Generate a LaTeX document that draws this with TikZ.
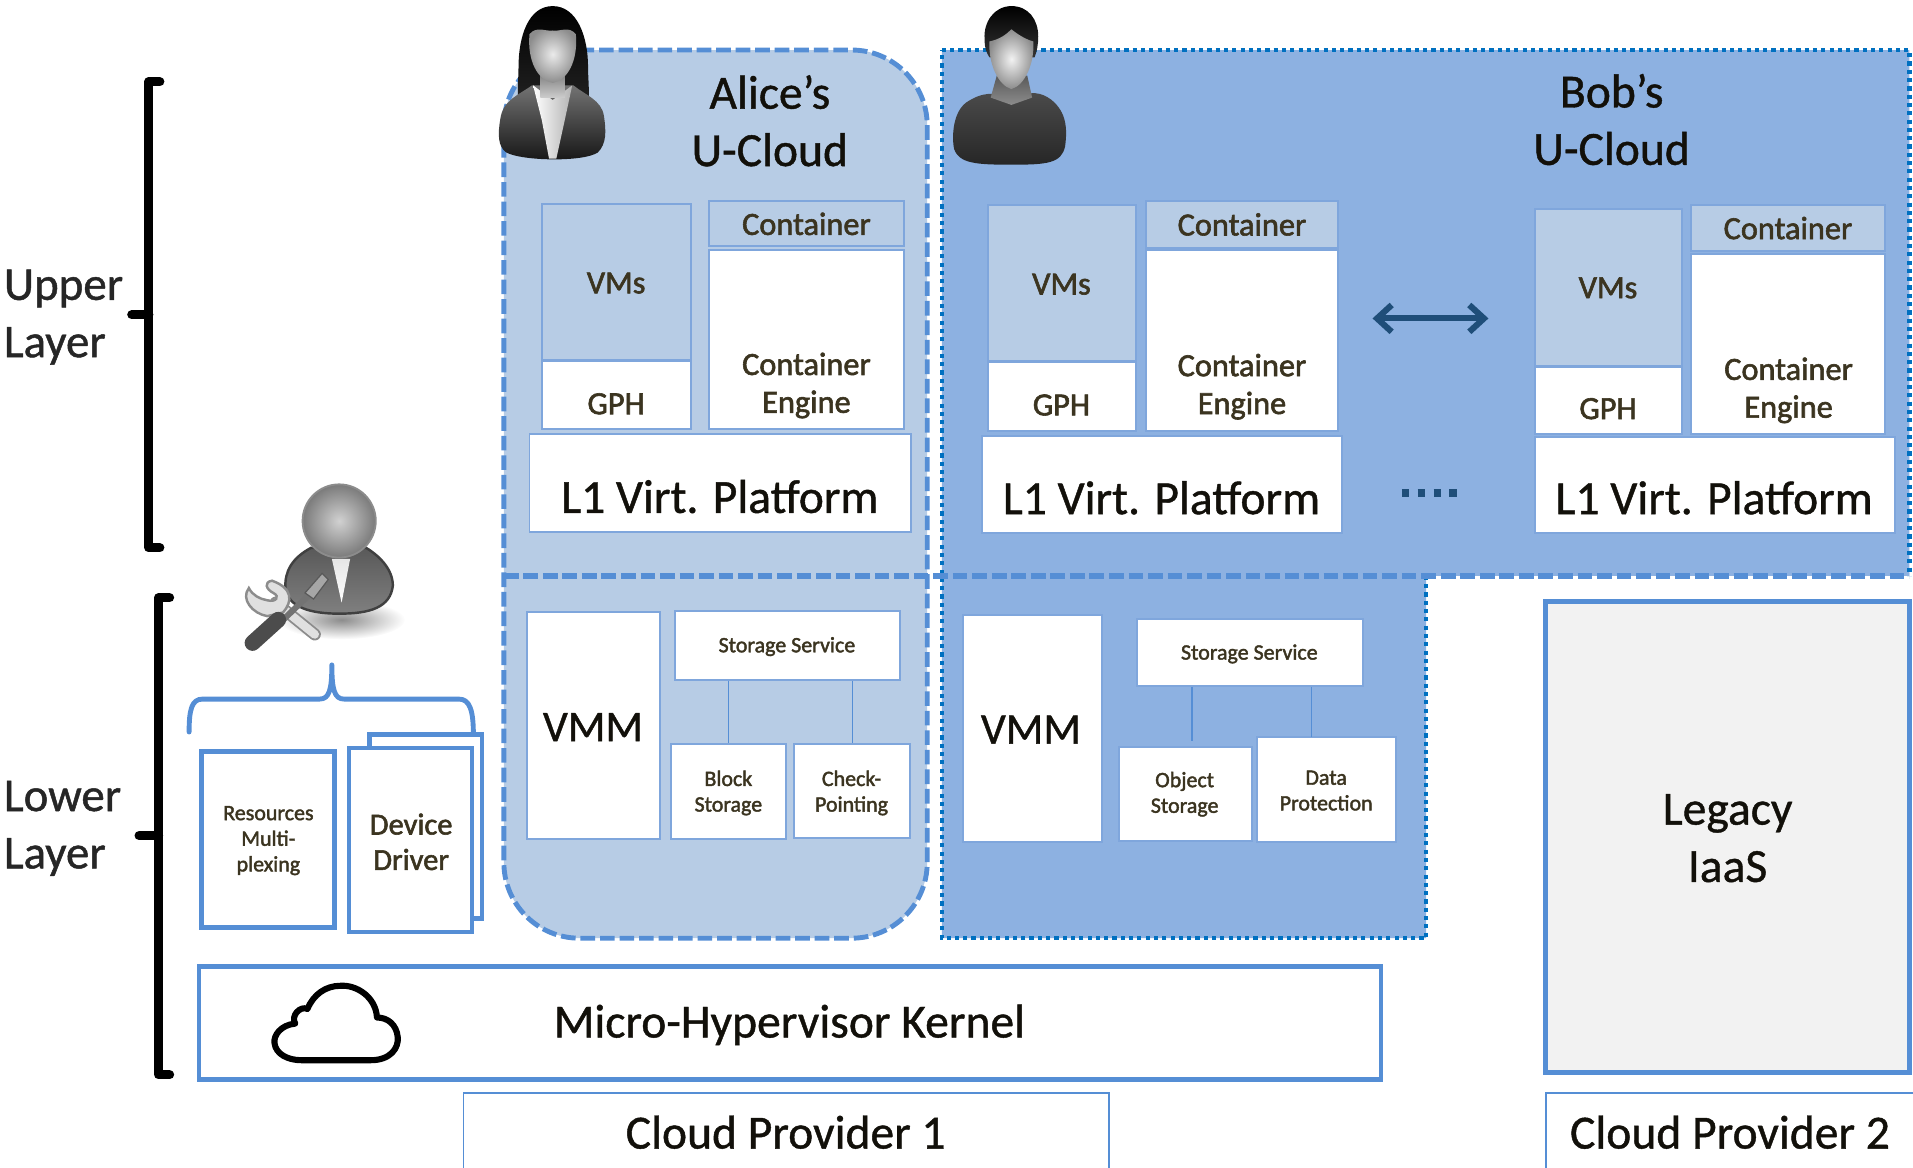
\documentclass[tikz,border=0pt]{standalone}
\usepackage{fontspec}
\setmainfont[FakeBold=1]{Carlito}
\newfontfamily\fbig[FakeBold=0.9]{Carlito}
\newfontfamily\fbold[FakeBold=1.8]{Carlito}
\usetikzlibrary{arrows.meta,calc}
\definecolor{alicefill}{HTML}{B7CCE5}
\definecolor{bobfill}{HTML}{8DB1E1}
\definecolor{dashblue}{HTML}{558ED5}
\definecolor{dotblue}{HTML}{0070C0}
\definecolor{txt}{HTML}{3B3420}
\definecolor{edge}{HTML}{7FA6DC}
\definecolor{arrowblue}{HTML}{1F4E79}
\newcommand\bx[6]{% name x1 y1 x2 y2 style
  \pgfmathsetmacro\bxw{#4-#2}\pgfmathsetmacro\bxh{#5-#3}
  \pgfmathsetmacro\bxx{(#2+#4)/2}\pgfmathsetmacro\bxy{(#3+#5)/2}
  \node[minimum width=\bxw pt,minimum height=\bxh pt,inner sep=0pt,#6] (#1) at (\bxx,\bxy) {};}
\tikzset{
  white box/.style={draw=edge,line width=1.6pt,fill=white},
  light box/.style={draw=edge,line width=1.6pt,fill=alicefill},
  blue frame/.style={draw=dashblue,line width=3.8pt,fill=white},
  thin frame/.style={draw=dashblue,line width=1.2pt},
  lab/.style={text=txt,align=center,inner sep=0pt},
  big/.style={text=black!70!txt,align=center,inner sep=0pt},
  wire/.style={draw=dashblue,line width=1.1pt},
  alice edge/.style={draw=dashblue,line width=4pt,dash pattern=on 12pt off 4pt},
  bob edge/.style={draw=dotblue,line width=3.6pt,dash pattern=on 3.4pt off 3.4pt},
  bracket/.style={draw=black,line width=7.5pt,line cap=round,line join=round},
  fs/.style={font=\fbold\fontsize{26.5}{31}\selectfont},
  fm/.style={font=\fbold\fontsize{18}{21}\selectfont},
  fb/.style={font=\fbig\fontsize{39}{47}\selectfont},
}
\begin{document}
\begin{tikzpicture}[x=1pt,y=-1pt]
\useasboundingbox (0,0) rectangle (1568,957);
% regions
\fill[bobfill] (772,41) -- (1565,41) -- (1565,472) -- (1169,472) -- (1169,769) -- (772,769) -- cycle;
\draw[bob edge] (772,41) -- (1565,41) -- (1565,472) (1169,472) -- (1169,769) -- (772,769) -- (772,41);
\path[fill=alicefill,alice edge,rounded corners=62pt] (413,41) -- (760,41) -- (760,769) -- (413,769) -- cycle;
\draw[alice edge,line width=4.6pt] (413,472) -- (1565,472);
% Alice upper
\bx{av}{444}{167}{566}{295}{light box}
\bx{ag}{444}{296}{566}{352}{white box}
\bx{ac}{581}{165}{741}{202}{light box}
\bx{ae}{581}{205}{741}{352}{white box}
\bx{al}{434}{356}{747}{436}{white box}
\node[big,fb] (atitle) at (631,99) {Alice’s\\U-Cloud};
\node[lab,fs] at (505,232) {VMs};
\node[lab,fs] at (505,331) {GPH};
\node[lab,fs] at (ac.center) {Container};
\node[lab,fs] at (661,316) {Container\\Engine};
\node[big,fb] at (590,407) {L1 Virt. Platform};
% Bob upper 1
\bx{bv}{810}{168}{931}{296}{light box}
\bx{bg}{810}{297}{931}{353}{white box}
\bx{bc}{939}{165}{1097}{203}{light box}
\bx{be}{939}{205}{1097}{353}{white box}
\bx{bl}{805}{357}{1100}{437}{white box}
\node[big,fb] (btitle) at (1321,98) {Bob’s\\U-Cloud};
\node[lab,fs] at (870,233) {VMs};
\node[lab,fs] at (870,332) {GPH};
\node[lab,fs] at (bc.center) {Container};
\node[lab,fs] at (1018,317) {Container\\Engine};
\node[big,fb] at (952,408) {L1 Virt. Platform};
% Bob upper 2
\bx{cv}{1258}{171}{1379}{300}{light box}
\bx{cg}{1258}{301}{1379}{356}{white box}
\bx{cc}{1386}{168}{1545}{206}{light box}
\bx{ce}{1386}{208}{1545}{356}{white box}
\bx{cl}{1258}{358}{1553}{437}{white box}
\node[lab,fs] at (1318,236) {VMs};
\node[lab,fs] at (1318,335) {GPH};
\node[lab,fs] at (cc.center) {Container};
\node[lab,fs] at (1466,320) {Container\\Engine};
\node[big,fb] at (1405,408) {L1 Virt. Platform};
% arrow and dots
\coordinate (ar1) at (1125,261);
\coordinate (ar2) at (1220,261);
\draw[arrowblue,line width=5pt,{Straight Barb[length=12pt,width=22pt]}-{Straight Barb[length=12pt,width=22pt]}] (ar1) -- (ar2);
\coordinate (dt1) at (1149,404);
\coordinate (dt2) at (1196,404);
\draw[arrowblue,line width=6pt,dash pattern=on 6pt off 7pt] (dt1) -- (dt2);
% Alice lower
\bx{am}{432}{502}{541}{688}{white box}
\bx{as}{553}{501}{738}{557}{white box}
\bx{ab}{550}{610}{644}{688}{white box}
\bx{ak}{651}{610}{746}{687}{white box}
\node[big,fb,font=\fbig\fontsize{36}{44}\selectfont] at (486,596) {VMM};
\node[lab,fm] at (645,530) {Storage Service};
\node[lab,fm] at (597,650) {Block\\Storage};
\node[lab,fm] at (698,650) {Check-\\Pointing};
\draw[wire] (as.south -| ab.north) -- (ab.north);
\draw[wire] (as.south -| ak.north) -- (ak.north);
% Bob lower
\bx{bm}{789}{504}{903}{690}{white box}
\bx{bs}{932}{507}{1117}{562}{white box}
\bx{bo}{917}{612}{1026}{689}{white box}
\bx{bd}{1030}{604}{1144}{690}{white box}
\node[big,fb,font=\fbig\fontsize{36}{44}\selectfont] at (845,598) {VMM};
\node[lab,fm] at (1024,536) {Storage Service};
\node[lab,fm] at (971,651) {Object\\Storage};
\node[lab,fm] at (1087,648) {Data\\Protection};
\coordinate (w1) at (977,607);
\coordinate (w2) at (1075,604);
\draw[wire] (bs.south -| w1) -- (w1);
\draw[wire] (bs.south -| w2) -- (w2);
% admin group
\draw[draw=dashblue,line width=4pt,line cap=round,line join=round] (155,600) .. controls (155,582) and (157,573) .. (166,573) -- (262,573) .. controls (270,573) and (272,565) .. (272,545) .. controls (272,565) and (274,573) .. (282,573) -- (376,573) .. controls (385,573) and (388,582) .. (388,602);
\bx{back}{303}{602}{395}{753}{blue frame}
\bx{res}{165}{616}{274}{760}{blue frame}
\bx{dev}{286}{613}{387}{764}{blue frame}
\node[lab,fm] at (220,689) {Resources\\Multi-\\plexing};
\node[lab,font=\fbold\fontsize{25}{29}\selectfont] at (337,690) {Device\\Driver};
% kernel
\bx{kern}{163}{792}{1132}{885}{blue frame}
\node[big,fb] at (647,840) {Micro-Hypervisor Kernel};
\draw[black,line width=5pt,line join=round,fill=white] (247,869) -- (304,869) .. controls (320,869) and (327,859) .. (326,850) .. controls (325,840) and (318,834) .. (309,834) .. controls (308,817) and (292,807) .. (279,808) .. controls (267,808) and (257,815) .. (252,827) .. controls (246,824) and (238,833) .. (242,839) .. controls (230,840) and (224,849) .. (225,855) .. controls (226,864) and (236,869) .. (247,869) -- cycle;
% legacy
\bx{leg}{1267}{493}{1565}{879}{blue frame,fill=black!5}
\node[big,fb] at (1416,687) {Legacy\\IaaS};
% providers
\node[big,fb] (p1) at (644,928) {Cloud Provider 1};
\node[big,fb] (p2) at (1418,928) {Cloud Provider 2};
\draw[thin frame] (380,957) -- (380,896) -- (909,896) -- (909,957);
\draw[thin frame] (1267,957) -- (1267,896) -- (1568,896);
% layer labels
\node[anchor=west,align=left,inner sep=0pt,font=\fontsize{38.5}{47}\selectfont,text=black!85] (up) at (3,260) {Upper\\Layer};
\node[anchor=west,align=left,inner sep=0pt,font=\fontsize{38.5}{47}\selectfont,text=black!85] (lo) at (3,679) {Lower\\Layer};
\draw[bracket] (131,67) -- (122,67) -- (122,449) -- (131,449) (122,258) -- (108,258);
\draw[bracket] (139,490) -- (130,490) -- (130,881) -- (139,881) (130,685) -- (114,685);
% Alice icon
\path[top color=black,bottom color=black!85] (453,5) .. controls (433,5) and (425,30) .. (425,55) .. controls (425,70) and (422,85) .. (430,95) -- (478,95) .. controls (485,85) and (482,70) .. (482,55) .. controls (482,30) and (473,5) .. (453,5) -- cycle;
\path[top color=black!55,bottom color=black!92] (436,70) .. controls (425,78) and (412,82) .. (410,98) .. controls (408,110) and (408,120) .. (415,125) .. controls (428,132) and (478,133) .. (490,125) .. controls (497,118) and (497,108) .. (495,95) .. controls (493,82) and (480,78) .. (470,70) -- cycle;
\path[left color=white,right color=black!30] (437,70) -- (444,98) -- (450,130) -- (456,130) -- (463,98) -- (469,70) -- (453,82) -- cycle;
\path[top color=black!50,bottom color=black!20] (443,60) rectangle (463,80);
\path[inner color=black!8,outer color=black!45] (434,28) .. controls (440,21) and (447,26) .. (453,25) .. controls (460,26) and (466,21) .. (472,28) .. controls (474,50) and (465,66) .. (453,68) .. controls (441,66) and (432,50) .. (434,28) -- cycle;
% Bob icon
\path[top color=black!70,bottom color=black!85] (792,84) .. controls (781,92) and (780,112) .. (782,122) .. controls (786,134) and (800,135) .. (829,135) .. controls (858,135) and (870,134) .. (873,120) .. controls (875,105) and (874,92) .. (862,82) .. controls (854,76) and (845,73) .. (829,82) .. controls (815,74) and (804,76) .. (792,84) -- cycle;
\path[top color=black!65,bottom color=black!45] (817,62) -- (842,62) -- (846,80) -- (829,86) -- (812,80) -- cycle;
\path[top color=black,bottom color=black!80] (829,5) .. controls (815,5) and (806,18) .. (807,32) .. controls (807,40) and (809,44) .. (811,47) -- (848,47) .. controls (850,42) and (851,36) .. (851,30) .. controls (851,16) and (843,5) .. (829,5) -- cycle;
\path[inner color=black!5,outer color=black!45] (811,34) .. controls (820,32) and (825,28) .. (829,24) .. controls (834,28) and (840,32) .. (847,34) .. controls (848,52) and (840,70) .. (829,73) .. controls (818,70) and (810,52) .. (811,34) -- cycle;
% admin icon
\path[inner color=black!45,outer color=white] (280,508) ellipse (52 and 16);
\path[top color=black!65,bottom color=black!50,draw=black!75,line width=2pt] (255,449) .. controls (240,457) and (233,468) .. (234,482) .. controls (236,498) and (255,503) .. (278,503) .. controls (303,503) and (320,498) .. (322,480) .. controls (322,466) and (310,455) .. (300,449) -- cycle;
\path[top color=black!10,bottom color=white] (272,458) -- (280,494) -- (287,458) -- cycle;
\path[inner color=black!18,outer color=black!52,draw=black!45,line width=1.5pt] (278,427) circle (30);
\draw[black!45,line width=10pt,line cap=round] (226,494) -- (258,520);
\draw[black!12,line width=7pt,line cap=round] (226,494) -- (258,520);
\draw[black!45,line width=2pt,fill=black!12] (223,476) .. controls (216,477) and (218,483) .. (224,486) .. controls (230,489) and (226,494) .. (219,492) .. controls (213,491) and (207,488) .. (204,482) .. controls (197,491) and (207,503) .. (219,505) -- (232,502) .. controls (240,493) and (240,482) .. (223,476) -- cycle;
\draw[black!55,line width=5pt] (230,510) -- (256,485);
\path[fill=black!35,draw=black!65,line width=1pt] (250,486) -- (264,470) -- (269,475) -- (257,491) -- cycle;
\draw[black!70,line width=13pt,line cap=round] (207,527) -- (228,508);
\end{tikzpicture}
\end{document}
